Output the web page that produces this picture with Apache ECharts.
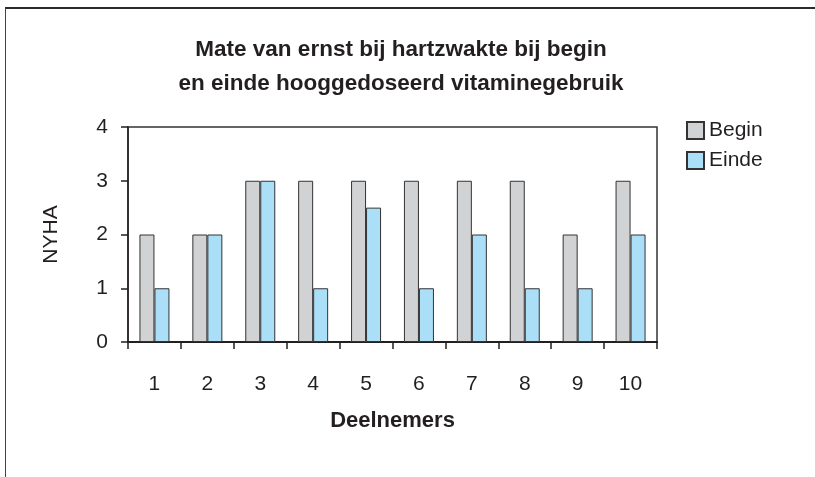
<!DOCTYPE html>
<html>
<head>
<meta charset="utf-8">
<script src="https://cdn.jsdelivr.net/npm/echarts@6/dist/echarts.min.js"></script>
<style>
    html, body { margin: 0; padding: 0; background: #fff; }
    #chart { width: 815px; height: 477px; }
    .frame {
        position: absolute;
        left: 5px;
        top: 7px;
        width: 830px;
        height: 490px;
        border-top: 2px solid #2b2b2b;
        border-left: 1px solid #444;
        pointer-events: none;
    }
</style>
</head>
<body>
<div id="chart"></div>
<div class="frame"></div>
<script>
const deelnemers = ['1', '2', '3', '4', '5', '6', '7', '8', '9', '10']
const begin = [2, 2, 3, 3, 3, 3, 3, 3, 2, 3]
const einde = [1, 2, 3, 1, 2.5, 1, 2, 1, 1, 2]
const textColor = '#231f20'
const fontFamily = '"Liberation Sans", Arial, sans-serif'

const chart = echarts.init(document.getElementById('chart'))

const option = {
    animation: false,
    textStyle: { fontFamily },
    title: {
        text: 'Mate van ernst bij hartzwakte bij begin\nen einde hooggedoseerd vitaminegebruik',
        left: 396,
        top: 28,
        textAlign: 'center',
        textStyle: {
            fontFamily,
            fontSize: 22.5,
            fontWeight: 'bold',
            color: textColor,
            lineHeight: 34
        }
    },
    legend: {
        orient: 'vertical',
        left: 681,
        top: 115,
        itemWidth: 17,
        itemHeight: 17,
        itemGap: 9,
        icon: 'rect',
        textStyle: { fontFamily, fontSize: 21, color: textColor },
        data: ['Begin', 'Einde']
    },
    grid: {
        left: 128,
        right: 158,
        top: 127,
        bottom: 135,
        show: true,
        borderColor: '#333',
        borderWidth: 1.5
    },
    xAxis: {
        type: 'category',
        data: deelnemers,
        name: 'Deelnemers',
        nameLocation: 'middle',
        nameGap: 68,
        nameTextStyle: { fontFamily, fontSize: 22, fontWeight: 'bold', color: textColor },
        axisLine: { lineStyle: { color: '#231f20', width: 2 } },
        axisTick: { show: true, alignWithLabel: false, length: 7, lineStyle: { color: '#231f20', width: 1.5 } },
        axisLabel: { fontFamily, fontSize: 21, color: textColor, margin: 32 }
    },
    yAxis: {
        type: 'value',
        min: 0,
        max: 4,
        interval: 1,
        name: 'NYHA',
        nameLocation: 'middle',
        nameGap: 66,
        nameRotate: 90,
        nameTextStyle: { fontFamily, fontSize: 21, color: textColor },
        axisLine: { show: true, lineStyle: { color: '#231f20', width: 1.5 } },
        axisTick: { show: true, length: 7, lineStyle: { color: '#231f20', width: 1.5 } },
        splitLine: { show: false },
        axisLabel: { fontFamily, fontSize: 21, color: textColor, margin: 20 }
    },
    series: [
        {
            name: 'Begin',
            type: 'bar',
            data: begin,
            barWidth: 15,
            barGap: '0%',
            itemStyle: { color: '#d1d2d4', borderColor: '#333', borderWidth: 1 }
        },
        {
            name: 'Einde',
            type: 'bar',
            data: einde,
            barWidth: 15,
            barGap: '0%',
            itemStyle: { color: '#abdff7', borderColor: '#333', borderWidth: 1 }
        }
    ]
}

chart.setOption(option)
</script>
</body>
</html>
